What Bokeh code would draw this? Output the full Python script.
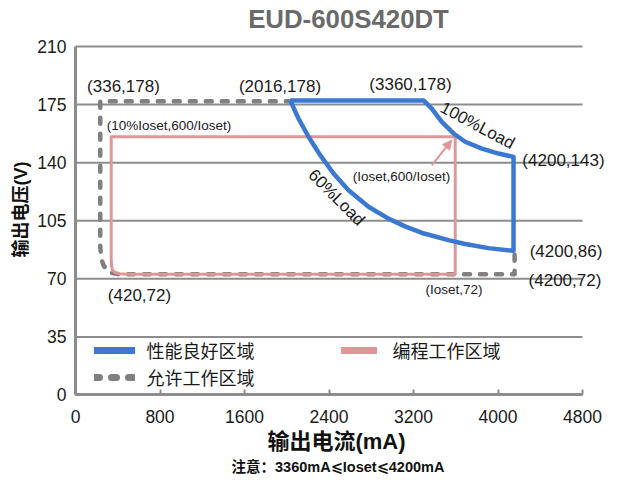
from bokeh.plotting import figure
from bokeh.models import Legend, LegendItem, Arrow, NormalHead, Label, FixedTicker
from bokeh.embed import file_html
from bokeh.resources import INLINE

# ---------------- data ----------------
x_ticks = [0, 800, 1600, 2400, 3200, 4000, 4800]
y_ticks = [0, 35, 70, 105, 140, 175, 210]

# 性能良好区域 (blue) pieces
top_I = [2033, 3295]
top_V = [177.5, 177.5]
load100_I = [3295, 3373, 3468, 3579, 3689, 3847, 4005, 4147]
load100_V = [177.5, 172.6, 164.6, 157.6, 152.6, 148.5, 145.5, 143.5]
right_I = [4147, 4147]
right_V = [143.5, 86.9]
load60_I = [2033, 2111, 2206, 2317, 2443, 2585, 2774, 2963, 3120, 3300, 3531, 3689, 3910, 4147]
load60_V = [177.5, 166.6, 155.6, 144.5, 133.5, 123.4, 113.4, 106.3, 101.6, 97.3, 93.3, 91.0, 88.5, 86.9]

# 允许工作区域 (gray dashed)
allowed_I = [4157, 4157, 407, 330, 268, 242, 234, 234, 2036]
allowed_V = [84.5, 72.8, 72.8, 73.6, 77.8, 82.5, 90, 177, 177]

# 编程工作区域 (pink)
prog_I = [3595, 338, 338, 342, 352, 375, 420, 480, 3595, 3595]
prog_V = [155.6, 155.6, 82, 77.5, 75, 73.8, 73.1, 72.8, 72.8, 155.6]

title_text = "EUD-600S420DT"
x_label = "输出电流(mA)"
y_label = "输出电压(V)"
note_text = "注意：3360mA⩽Ioset⩽4200mA"
point_labels = ["(336,178)", "(2016,178)", "(3360,178)", "(4200,143)",
                "(4200,86)", "(4200,72)", "(420,72)"]
small_labels = ["(Ioset,72)", "(Ioset,600/Ioset)", "(10%Ioset,600/Ioset)"]
load_labels = ["100%Load", "60%Load"]
legend_labels = ["性能良好区域", "编程工作区域", "允许工作区域"]

# ---------------- style ----------------
BLUE = "#3a78d2"
PINK = "#e09696"
GRAY = "#808080"
GRID = "#8c8c8c"
TXT = "#1a1a1a"
LATIN = "Liberation Sans, Noto Sans CJK SC, DejaVu Sans"
CJK = "Noto Sans CJK SC"
NAN = float("nan")

# the frame covers the whole canvas; axes sit at fixed data locations
p = figure(width=608, height=479, x_range=(-710.06, 5046.15), y_range=(-50.92, 237.72),
           output_backend="svg", toolbar_location=None,
           min_border_left=0, min_border_right=0, min_border_top=0, min_border_bottom=0)
p.outline_line_color = None
p.title.visible = False
p.xgrid.visible = False
p.ygrid.visible = False

p.xaxis.ticker = FixedTicker(ticks=x_ticks)
p.yaxis.ticker = FixedTicker(ticks=y_ticks)
p.xaxis.fixed_location = 0
p.yaxis.fixed_location = 0
p.xaxis.bounds = (x_ticks[0], x_ticks[-1])
p.yaxis.bounds = (y_ticks[0], y_ticks[-1])
for ax in (p.xaxis[0], p.yaxis[0]):
    ax.axis_line_color = GRID
    ax.axis_line_width = 3
    ax.major_tick_line_color = GRID
    ax.major_tick_line_width = 2
    ax.minor_tick_line_color = None
    ax.major_label_text_font = LATIN
    ax.major_label_text_font_size = "17.5px"
    ax.major_label_text_color = TXT
p.xaxis.major_tick_in = 5
p.xaxis.major_tick_out = 0
p.xaxis.major_label_standoff = 15
p.yaxis.major_tick_in = 0
p.yaxis.major_tick_out = 0
p.yaxis.major_label_standoff = 9

# horizontal grid lines from the tick arrays
n = len(y_ticks)
p.segment(x0=[x_ticks[0]] * n, y0=y_ticks, x1=[x_ticks[-1]] * n, y1=y_ticks,
          line_color=GRID, line_width=2)

# ---------------- lines ----------------
good_I = top_I + load100_I[1:] + right_I[1:] + load60_I[::-1][1:]
good_V = top_V + load100_V[1:] + right_V[1:] + load60_V[::-1][1:]

p.line(allowed_I, allowed_V, line_color=GRAY, line_width=4.5,
       line_dash="6 10", line_cap="round", line_join="round")
p.line(prog_I, prog_V, line_color=PINK, line_width=3, line_join="round")
p.line(good_I, good_V, line_color=BLUE, line_width=4.5, line_join="round")

p.add_layout(Arrow(end=NormalHead(size=9, fill_color=PINK, line_color=PINK),
                   x_start=3374, y_start=138.5, x_end=3562, y_end=153.5,
                   line_color=PINK, line_width=2))

# ---------------- texts ----------------
def add_text(t, x, y, size, bold=False, color=TXT, angle=0, font=LATIN):
    p.add_layout(Label(x=x, y=y, text=t, angle=angle, angle_units="deg",
                       text_align="center", text_baseline="middle",
                       text_font=font, text_font_size=size,
                       text_font_style="bold" if bold else "normal",
                       text_color=color))

add_text(title_text, 2584.6, 226.3, "25.8px", bold=True, color="#6a6a6a")
add_text(x_label, 2471, -28.0, "22px", bold=True, color="#111111")
add_text(note_text, 2485, -43.4, "14.5px", bold=True, color="#111111")
add_text(y_label, -520.7, 111.8, "18px", bold=True, color="#111111", angle=90)

pl_pos = [(454, 185.9), (1936, 185.9), (3171, 187.1), (4620, 141.3),
          (4644, 86.5), (4634, 69.0), (606, 60.0)]
for t, (x, y) in zip(point_labels, pl_pos):
    add_text(t, x, y, "17px")

sl_pos = [(3583, 63.6), (3086, 131.7), (885, 162.4)]
for t, (x, y) in zip(small_labels, sl_pos):
    add_text(t, x, y, "13.5px")

ll_pos = [(3806, 162.4, -28), (2471, 119.0, -45)]
for t, (x, y, a) in zip(load_labels, ll_pos):
    add_text(t, x, y, "17px", angle=a)

# ---------------- legends ----------------
lb = p.line([NAN], [NAN], line_color=BLUE, line_width=7, line_cap="round")
lp = p.line([NAN], [NAN], line_color=PINK, line_width=7, line_cap="round")
lg = p.line([NAN], [NAN], line_color=GRAY, line_width=7, line_cap="round", line_dash="5 12")

def mk_legend(label, rend, loc, gw, standoff):
    leg = Legend(items=[LegendItem(label=label, renderers=[rend])], location=loc,
                 border_line_color=None, background_fill_alpha=0, padding=0,
                 margin=0, spacing=0, glyph_width=gw, glyph_height=20,
                 label_height=20, label_standoff=standoff, label_text_font=CJK,
                 label_text_font_size="18px", label_text_color=TXT)
    p.add_layout(leg)

mk_legend(legend_labels[0], lb, (93.5, 115.8), 41, 12)
mk_legend(legend_labels[2], lg, (93.5, 89.2), 41, 12)
mk_legend(legend_labels[1], lp, (340.5, 115.8), 36, 16)

open("out.html", "w").write(file_html(p, INLINE))
